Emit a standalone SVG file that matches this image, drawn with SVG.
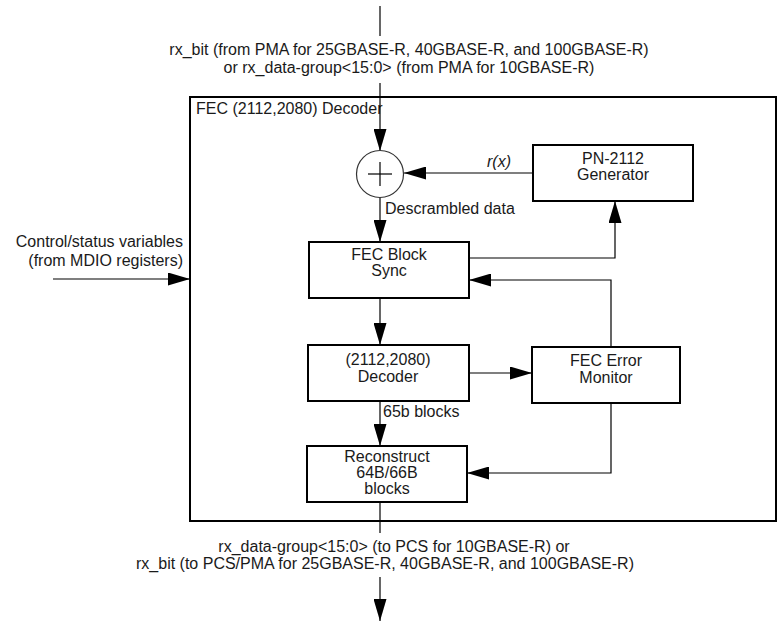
<svg xmlns="http://www.w3.org/2000/svg" width="780" height="626" viewBox="0 0 780 626">
<defs>
<marker id="arr" markerUnits="userSpaceOnUse" markerWidth="22" markerHeight="13" refX="22" refY="6.5" orient="auto">
<path d="M0,0 L22,6.5 L0,13 z" fill="#000"/>
</marker>
<style>
text{font-family:"Liberation Sans",Arial,sans-serif;font-size:16px;fill:#1a1a1a}
.c{text-anchor:middle}
.box{fill:#fff;stroke:#000;stroke-width:2}
.ln{fill:none;stroke:#000;stroke-width:1.2}
</style>
</defs>
<rect width="780" height="626" fill="#fff"/>
<g id="outer">
<rect x="190" y="97" width="586" height="424" fill="none" stroke="#000" stroke-width="2"/>
<text x="196" y="114">FEC (2112,2080) Decoder</text>
</g>
<g id="connectors">
<line class="ln" x1="380" y1="6" x2="380" y2="36"/>
<line class="ln" x1="380" y1="83" x2="380" y2="151" marker-end="url(#arr)"/>
<line class="ln" x1="533" y1="173" x2="404" y2="173" marker-end="url(#arr)"/>
<line class="ln" x1="380" y1="197" x2="380" y2="242" marker-end="url(#arr)"/>
<line class="ln" x1="53" y1="279" x2="190" y2="279" marker-end="url(#arr)"/>
<polyline class="ln" points="469,258 615,258 615,201" marker-end="url(#arr)"/>
<polyline class="ln" points="611,347 611,280 469,280" marker-end="url(#arr)"/>
<line class="ln" x1="380" y1="298" x2="380" y2="345" marker-end="url(#arr)"/>
<line class="ln" x1="469" y1="373" x2="532" y2="373" marker-end="url(#arr)"/>
<line class="ln" x1="380" y1="401" x2="380" y2="446" marker-end="url(#arr)"/>
<polyline class="ln" points="611,403 611,473 467,473" marker-end="url(#arr)"/>
<line class="ln" x1="380" y1="502" x2="380" y2="533"/>
<line class="ln" x1="380" y1="577" x2="380" y2="621" marker-end="url(#arr)"/>
<text x="499" y="167" class="c" font-style="italic">r(x)</text>
<text x="385" y="214">Descrambled data</text>
<text x="383" y="417">65b blocks</text>
</g>
<g id="in-label">
<text x="409" y="55" class="c">rx_bit (from PMA for 25GBASE-R, 40GBASE-R, and 100GBASE-R)</text>
<text x="409" y="72.5" class="c">or rx_data-group&lt;15:0&gt; (from PMA for 10GBASE-R)</text>
</g>
<g id="ctrl-label">
<text x="183" y="247" text-anchor="end">Control/status variables</text>
<text x="183" y="266" text-anchor="end">(from MDIO registers)</text>
</g>
<g id="xor">
<circle cx="380" cy="174" r="23.5" fill="#fff" stroke="#333" stroke-width="1.2"/>
<line class="ln" x1="368" y1="174" x2="392" y2="174" stroke="#333"/>
<line class="ln" x1="380" y1="162" x2="380" y2="186" stroke="#333"/>
</g>
<g id="pn">
<rect class="box" x="533" y="145" width="160" height="56"/>
<text x="613" y="164" class="c">PN-2112</text>
<text x="613" y="180" class="c">Generator</text>
</g>
<g id="sync">
<rect class="box" x="309" y="242" width="160" height="56"/>
<text x="389" y="260" class="c">FEC Block</text>
<text x="389" y="276" class="c">Sync</text>
</g>
<g id="decoder">
<rect class="box" x="308" y="345" width="161" height="56"/>
<text x="388" y="365" class="c">(2112,2080)</text>
<text x="388" y="382" class="c">Decoder</text>
</g>
<g id="monitor">
<rect class="box" x="532" y="347" width="148" height="56"/>
<text x="606" y="366" class="c">FEC Error</text>
<text x="606" y="383" class="c">Monitor</text>
</g>
<g id="reconstruct">
<rect class="box" x="307" y="446" width="160" height="56"/>
<text x="387" y="462" class="c">Reconstruct</text>
<text x="387" y="478" class="c">64B/66B</text>
<text x="387" y="494" class="c">blocks</text>
</g>
<g id="out-label">
<text x="394" y="552" class="c">rx_data-group&lt;15:0&gt; (to PCS for 10GBASE-R) or</text>
<text x="385" y="569" class="c">rx_bit (to PCS/PMA for 25GBASE-R, 40GBASE-R, and 100GBASE-R)</text>
</g>
</svg>
